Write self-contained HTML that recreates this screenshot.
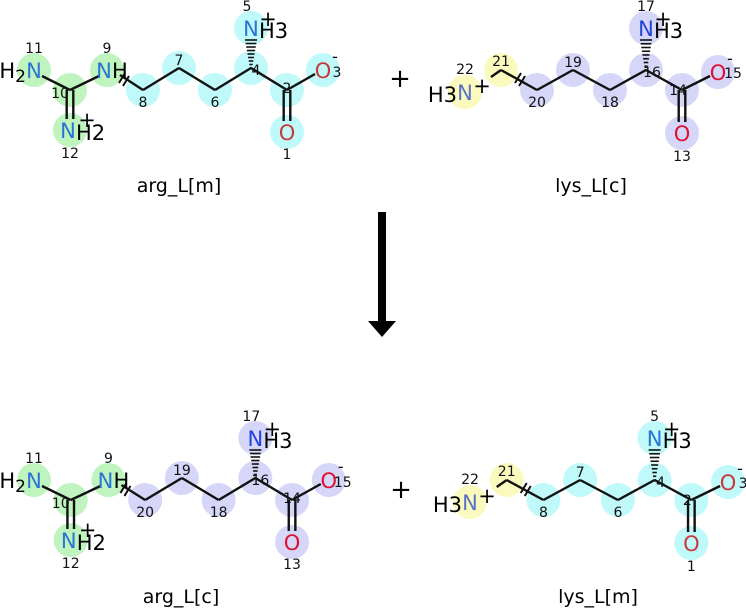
<!DOCTYPE html>
<html><head><meta charset="utf-8"><style>
html,body{margin:0;padding:0;background:#fff;width:746px;height:609px;overflow:hidden}
svg{display:block}
text{font-family:"DejaVu Sans","Liberation Sans",sans-serif}
</style></head><body>
<svg id="s" width="746" height="609" viewBox="0 0 746 609" xmlns="http://www.w3.org/2000/svg"></svg>
<script>
const CY='#bff9f9',GR='#bff4bf',LV='#d6d6f9',YE='#fafabf';
const NB='#2a74d6',OR='#d42a2a',NL='#5a72c4';
const AS=21,NS=14;
let o='';
function circ(x,y,c){o+=`<circle cx="${x}" cy="${y}" r="17" fill="${c}"/>`;}
function line(a,b,w){o+=`<line x1="${a[0]}" y1="${a[1]}" x2="${b[0]}" y2="${b[1]}" stroke="#111" stroke-width="${w||2.4}"/>`;}
function t(x,y,s,sz,c,anchor){o+=`<text x="${x}" y="${y}" font-size="${sz}" fill="${c||'#000'}" text-anchor="${anchor||'middle'}">${s}</text>`;}
function dbl(a,b){const dx=b[0]-a[0],dy=b[1]-a[1],L=Math.hypot(dx,dy),nx=-dy/L*3.3,ny=dx/L*3.3;
 line([a[0]+nx,a[1]+ny],[b[0]+nx,b[1]+ny]);line([a[0]-nx,a[1]-ny],[b[0]-nx,b[1]-ny]);}
function hash(a,b){for(let i=0;i<9;i++){const f=i/8,x=a[0]+(b[0]-a[0])*f,y=a[1]+(b[1]-a[1])*f,w=1+f*5;line([x-w,y],[x+w,y],1.6);}}
function cross(x,y){line([x-5,y+2],[x+1,y-8],2);line([x-1,y+5],[x+5,y-5],2);}
function nh3(P,nColor){
 t(P[0],P[1]+8,'N',AS,nColor);t(P[0]+8,P[1]+10,'H3',AS,'#000','start');t(P[0]+17,P[1]-2,'+',AS,'#000');
}
function arg(dy,sx,cols,nums,nColor,oColor){
 const P={N11:[34,70],C10:[70,90],N9:[107,70],C8:[143,90],C7:[179,68],C6:[215,90],C4:[251,68],N5:[251,28],C2:[287,90],O3:[323,70],O1:[287,132],N12:[70,130]};
 for(const k in P){P[k]=[34+(P[k][0]-34)*sx,P[k][1]+dy];}
 for(const k in P) circ(P[k][0],P[k][1],cols[k]);
 line([P.N11[0]+8,P.N11[1]+6],P.C10);line(P.C10,[P.N9[0]-8,P.N9[1]+6]);
 dbl(P.C10,[P.N12[0],P.N12[1]-11]);
 line([P.N9[0]+13,P.N9[1]+5],P.C8);cross(P.N9[0]+17,P.N9[1]+11);
 line(P.C8,P.C7);line(P.C7,P.C6);line(P.C6,P.C4);line(P.C4,P.C2);
 line(P.C2,[P.O3[0]-8,P.O3[1]+4]);dbl(P.C2,[P.O1[0],P.O1[1]-11]);
 hash(P.C4,[P.N5[0],P.N5[1]+12]);
 t(P.N11[0],P.N11[1]+8,'N',AS,NB);t(P.N11[0]-8,P.N11[1]+8,'H<tspan font-size="17" dy="4">2</tspan>',AS,'#000','end');
 t(P.N9[0]-3,P.N9[1]+8,'N',AS,NB);t(P.N9[0]+5,P.N9[1]+8,'H',AS,'#000','start');
 t(P.N12[0]-2,P.N12[1]+8,'N',AS,NB);t(P.N12[0]+6,P.N12[1]+10,'H2',AS,'#000','start');t(P.N12[0]+17,P.N12[1]-3,'+',AS,'#000');
 nh3(P.N5,nColor);
 t(P.O3[0],P.O3[1]+8,'O',AS,oColor);t(P.O3[0]+12,P.O3[1]-8,'-',16,'#000');
 t(P.O1[0],P.O1[1]+8,'O',AS,oColor);
 const L=[['N11',0,-17],['N9',0,-17],['C10',-10,8],['N12',0,28],['C8',0,17],['C7',0,-3],['C6',0,17],['C4',5,7],['N5',-4,-17],['O3',14,7],['C2',0,3],['O1',0,27]];
 L.forEach(([k,dx,dd])=>t(P[k][0]+dx,P[k][1]+dd,nums[k],NS,'#111'));
}
function lys(dy,x0,sx,cols,nums,nColor,oColor){
 const P={N22:[465,92],C21:[501,70],C20:[537,90],C19:[573,70],C18:[610,90],C16:[646,70],N17:[646,28],C14:[682,90],O15:[718,72],O13:[682,133]};
 for(const k in P){P[k]=[x0+(P[k][0]-465)*sx,P[k][1]+dy];}
 for(const k in P) circ(P[k][0],P[k][1],cols[k]);
 line([P.C21[0]-10,P.C21[1]+7],P.C21);line(P.C21,P.C20);cross(P.C21[0]+19,P.C21[1]+11);
 line(P.C20,P.C19);line(P.C19,P.C18);line(P.C18,P.C16);line(P.C16,P.C14);
 line(P.C14,[P.O15[0]-8,P.O15[1]+4]);dbl(P.C14,[P.O13[0],P.O13[1]-11]);
 hash(P.C16,[P.N17[0],P.N17[1]+12]);
 t(P.N22[0],P.N22[1]+8,'N',AS,NL);t(P.N22[0]-8,P.N22[1]+10,'H3',AS,'#000','end');t(P.N22[0]+17,P.N22[1]+1,'+',AS,'#000');
 nh3(P.N17,nColor);
 t(P.O15[0],P.O15[1]+8,'O',AS,oColor);t(P.O15[0]+12,P.O15[1]-8,'-',16,'#000');
 t(P.O13[0],P.O13[1]+8,'O',AS,oColor);
 const L=[['N22',0,-18],['C21',0,-4],['C20',0,17],['C19',0,-3],['C18',0,17],['C16',6,7],['N17',0,-17],['O15',15,6],['C14',-4,5],['O13',0,28]];
 L.forEach(([k,dx,dd])=>t(P[k][0]+dx,P[k][1]+dd,nums[k],NS,'#111'));
}
arg(0,1,{N11:GR,C10:GR,N9:GR,N12:GR,C8:CY,C7:CY,C6:CY,C4:CY,N5:CY,C2:CY,O3:CY,O1:CY},
 {N11:'11',N9:'9',C10:'10',N12:'12',C8:'8',C7:'7',C6:'6',C4:'4',N5:'5',O3:'3',C2:'2',O1:'1'},NB,'#c83a3a');
t(179,192,'arg_L[m]',19,'#000');
lys(0,465,1,{N22:YE,C21:YE,C20:LV,C19:LV,C18:LV,C16:LV,N17:LV,C14:LV,O15:LV,O13:LV},
 {N22:'22',C21:'21',C20:'20',C19:'19',C18:'18',C16:'16',N17:'17',O15:'15',C14:'14',O13:'13'},'#2244dd','#dd1133');
t(591,192,'lys_L[c]',19,'#000');
t(400,87,'+',26,'#000');
o+='<rect x="378" y="212" width="8" height="112" fill="#000"/><polygon points="368,321 396,321 382,337" fill="#000"/>';
arg(410,1.02,{N11:GR,C10:GR,N9:GR,N12:GR,C8:LV,C7:LV,C6:LV,C4:LV,N5:LV,C2:LV,O3:LV,O1:LV},
 {N11:'11',N9:'9',C10:'10',N12:'12',C8:'20',C7:'19',C6:'18',C4:'16',N5:'17',O3:'15',C2:'14',O1:'13'},'#2244dd','#dd1133');
t(181,603,'arg_L[c]',19,'#000');
lys(410,470,1.02,{N22:YE,C21:YE,C20:CY,C19:CY,C18:CY,C16:CY,N17:CY,C14:CY,O15:CY,O13:CY},
 {N22:'22',C21:'21',C20:'8',C19:'7',C18:'6',C16:'4',N17:'5',O15:'3',C14:'2',O13:'1'},NB,'#c83a3a');
t(598,603,'lys_L[m]',19,'#000');
t(401,498,'+',26,'#000');
document.getElementById('s').innerHTML=o;
</script>
</body></html>
